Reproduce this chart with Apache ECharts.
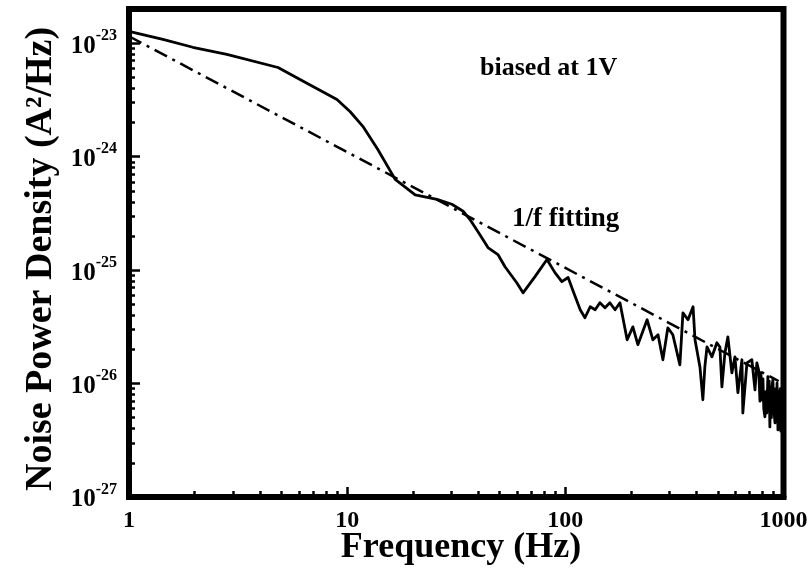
<!DOCTYPE html>
<html>
<head>
<meta charset="utf-8">
<script src="https://cdn.jsdelivr.net/npm/echarts@6/dist/echarts.min.js"></script>
<style>
  html, body { margin: 0; padding: 0; background: #fff; }
  #chart { width: 812px; height: 578px; }
</style>
</head>
<body>
<div id="chart"></div>
<script>
const freqHz = [
  1, 1.43, 1.96, 2.81, 4.82, 6.08, 8.98, 10.3, 11.8, 13.8,
  16.6, 20.5, 25.8, 30.2, 34.0, 36.5, 40.6, 44.2, 49.1, 52.9,
  60.0, 64.0, 72.6, 82.4, 89.6, 96.4, 103, 108, 117, 123,
  130, 137, 144, 152, 160, 169, 178, 192, 204, 215,
  237, 252, 266, 280, 295, 311, 335, 346, 365, 385,
  393, 414, 427, 436, 446, 470, 495, 511, 522, 539,
  556, 580, 599, 618, 645, 651, 680, 716, 740, 755,
  770, 780, 788, 796, 805, 812, 822, 830, 838, 848,
  855, 860, 866, 872, 880, 887, 894, 903, 914, 922,
  928, 934, 943, 950, 955, 961, 966, 972, 978, 983,
  988, 993, 997, 1000
];
const noisePSD = [
  1.27e-23, 1.08e-23, 9.2e-24, 7.96e-24, 6.1e-24, 4.79e-24, 3.19e-24, 2.5e-24, 1.85e-24, 1.16e-24,
  6.3e-25, 4.6e-25, 4.2e-25, 3.8e-25, 3.3e-25, 2.8e-25, 2.05e-25, 1.58e-25, 1.37e-25, 1.07e-25,
  7.7e-26, 6.3e-26, 8.75e-26, 1.24e-25, 9.5e-26, 7.9e-26, 8.6e-26, 6.7e-26, 4.47e-26, 3.8e-26,
  4.75e-26, 4.47e-26, 5.15e-26, 4.65e-26, 5.15e-26, 4.47e-26, 5.15e-26, 2.43e-26, 3.16e-26, 2.2e-26,
  3.65e-26, 2.43e-26, 2.69e-26, 1.62e-26, 3.1e-26, 2.69e-26, 1.46e-26, 4.2e-26, 3.65e-26, 4.75e-26,
  2.43e-26, 1.4e-26, 7.2e-27, 1.4e-26, 2.1e-26, 1.72e-26, 2.29e-26, 2.1e-26, 9.35e-27, 1.87e-26,
  2.58e-26, 1.24e-26, 1.72e-26, 8.3e-27, 1.62e-26, 5.5e-27, 1.52e-26, 1.62e-26, 8.8e-27, 1.52e-26,
  1.3e-26, 7e-27, 1.25e-26, 7.2e-27, 1.1e-26, 6e-27, 5.1e-27, 8.5e-27, 5.5e-27, 1.15e-26,
  6e-27, 1.05e-26, 4.15e-27, 9e-27, 5e-27, 9.5e-27, 1.08e-26, 6e-27, 4.5e-27, 9e-27,
  5e-27, 1.01e-26, 3.9e-27, 8.5e-27, 4.5e-27, 7.9e-27, 9e-27, 3.8e-27, 8e-27, 6.5e-27,
  4e-27, 4.3e-27, 8e-27, 7e-27
];

// 1/f fit, straight line on log-log
const fitFreq = [1, 950];
const fitPSD = [1.15e-23, 1.05e-26];

const xMajor = [1, 10, 100, 1000];
const yMajorExp = [-27, -26, -25, -24, -23];
const minorSteps = [2, 3, 4, 5, 6, 7, 8, 9];

// the y axis is plotted in units of 1e-27 A^2/Hz (log axis rounding breaks on tiny numbers)
const yUnitExp = -27;
const toUnit = v => v * Math.pow(10, -yUnitExp);

const yMajor = yMajorExp.map(e => Math.pow(10, e - yUnitExp));
const xMinor = [];
xMajor.slice(0, -1).forEach(d => minorSteps.forEach(m => xMinor.push(m * d)));
const yMinor = [];
yMajor.slice(0, -1).forEach(d => minorSteps.forEach(m => yMinor.push(m * d)));

const serif = '"Liberation Serif", "DejaVu Serif", serif';
const black = '#000';

const pairs = (xs, ys) => xs.map((x, i) => [x, toUnit(ys[i])]);

const chart = echarts.init(document.getElementById('chart'));

const baseX = {
  type: 'log', logBase: 10, min: 1, max: 1000, gridIndex: 0, position: 'bottom',
  splitLine: { show: false }
};
const baseY = {
  type: 'log', logBase: 10, min: 1, max: toUnit(2e-23), gridIndex: 0, position: 'left',
  splitLine: { show: false }
};

chart.setOption({
  animation: false,
  backgroundColor: '#fff',
  grid: {
    left: 129, right: 28.5, top: 9, bottom: 81,
    show: true, borderColor: black, borderWidth: 6
  },
  xAxis: [
    Object.assign({}, baseX, {
      axisLine: { show: true, lineStyle: { color: black, width: 6 } },
      axisTick: { inside: true, length: 10, lineStyle: { color: black, width: 2.5 }, customValues: xMajor },
      axisLabel: {
        customValues: xMajor, margin: 12,
        color: black, fontFamily: serif, fontWeight: 'bold', fontSize: 24,
        formatter: v => String(Math.round(v))
      }
    }),
    Object.assign({}, baseX, {
      axisLine: { show: false },
      axisTick: { inside: true, length: 6, lineStyle: { color: black, width: 2.5 }, customValues: xMinor },
      axisLabel: { show: false }
    })
  ],
  yAxis: [
    Object.assign({}, baseY, {
      axisLine: { show: true, lineStyle: { color: black, width: 6 } },
      axisTick: { inside: true, length: 11, lineStyle: { color: black, width: 2.5 }, customValues: yMajor },
      axisLabel: {
        customValues: yMajor, margin: 12,
        formatter: v => '{b|10}{s|' + (Math.round(Math.log10(v)) + yUnitExp) + '}',
        rich: {
          b: { fontFamily: serif, fontWeight: 'bold', fontSize: 25, lineHeight: 25, color: black, verticalAlign: 'bottom' },
          s: { fontFamily: serif, fontWeight: 'bold', fontSize: 16, color: black, verticalAlign: 'top', padding: [0, 0, 15, 0] }
        }
      }
    }),
    Object.assign({}, baseY, {
      axisLine: { show: false },
      axisTick: { inside: true, length: 6, lineStyle: { color: black, width: 2.5 }, customValues: yMinor },
      axisLabel: { show: false }
    })
  ],
  series: [
    {
      name: '1/f fitting',
      type: 'line',
      xAxisIndex: 0, yAxisIndex: 0,
      data: pairs(fitFreq, fitPSD),
      showSymbol: false,
      lineStyle: { color: black, width: 2.5, type: [14, 6, 3, 6] }
    },
    {
      name: 'biased at 1V',
      type: 'line',
      xAxisIndex: 0, yAxisIndex: 0,
      data: pairs(freqHz, noisePSD),
      showSymbol: false,
      lineStyle: { color: black, width: 2.8, join: 'round' }
    }
  ],
  graphic: [
    {
      type: 'text', x: 41, y: 259, rotation: Math.PI / 2,
      style: {
        text: 'Noise Power Density (A²/Hz)', fill: black,
        fontFamily: serif, fontWeight: 'bold', fontSize: 38,
        align: 'center', verticalAlign: 'middle'
      }
    },
    {
      type: 'text', x: 461, y: 548,
      style: {
        text: 'Frequency (Hz)', fill: black,
        fontFamily: serif, fontWeight: 'bold', fontSize: 36,
        align: 'center', verticalAlign: 'middle'
      }
    },
    {
      type: 'text', x: 480, y: 68,
      style: {
        text: 'biased at 1V', fill: black,
        fontFamily: serif, fontWeight: 'bold', fontSize: 26,
        align: 'left', verticalAlign: 'middle'
      }
    },
    {
      type: 'text', x: 512, y: 219,
      style: {
        text: '1/f fitting', fill: black,
        fontFamily: serif, fontWeight: 'bold', fontSize: 27,
        align: 'left', verticalAlign: 'middle'
      }
    }
  ]
});
</script>
</body>
</html>
